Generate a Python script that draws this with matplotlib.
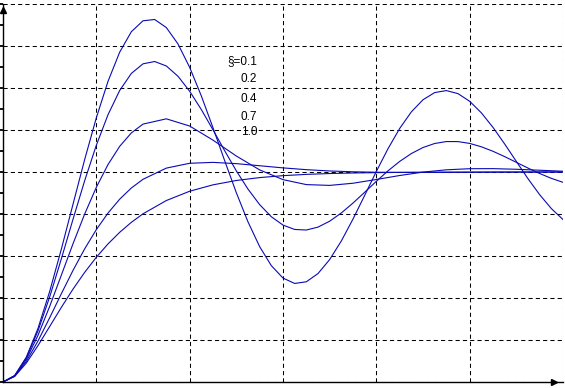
# Step responses of a second-order system for several damping ratios

import numpy as np
import matplotlib.pyplot as plt

# Step 1: data
# fine time steps at the start, coarser ones later for the smoother curves
t_fine = [0, 0.25, 0.5, 0.75, 1, 1.25, 1.5, 1.75, 2, 2.25, 2.5, 2.75, 3,
          3.25, 3.5, 3.75, 4, 4.25, 4.5, 4.75, 5, 5.25, 5.5, 5.75, 6,
          6.25, 6.5, 6.75, 7, 7.25, 7.5, 7.75, 8, 8.25, 8.5, 8.75, 9,
          9.25, 9.5, 9.75, 10, 10.25, 10.5, 10.75, 11, 11.25, 11.5, 11.75, 12]
t_mixed = [0, 0.25, 0.5, 0.75, 1, 1.25, 1.5, 1.75, 2, 2.25, 2.5, 2.75, 3,
           3.5, 4, 4.5, 5, 5.5, 6, 6.5, 7, 7.5, 8, 8.5, 9, 9.5, 10,
           10.5, 11, 11.5, 12]

y_01 = [0.0, 0.0306, 0.1185, 0.2555, 0.4310, 0.6325, 0.8464, 1.0593, 1.2581,
        1.4316, 1.5704, 1.6679, 1.7201, 1.7262, 1.6878, 1.6096, 1.4983, 1.3622,
        1.2107, 1.0539, 0.9014, 0.7624, 0.6445, 0.5540, 0.4949, 0.4693, 0.4772,
        0.5164, 0.5830, 0.6716, 0.7759, 0.8886, 1.0026, 1.1109, 1.2072, 1.2862,
        1.3440, 1.3782, 1.3877, 1.3732, 1.3368, 1.2818, 1.2124, 1.1334, 1.0502,
        0.9681, 0.8919, 0.8259, 0.7737]
y_02 = [0.0, 0.0301, 0.1147, 0.2436, 0.4050, 0.5863, 0.7748, 0.9586, 1.1275,
        1.2727, 1.3880, 1.4693, 1.5151, 1.5261, 1.5049, 1.4559, 1.3845, 1.2972,
        1.2006, 1.1014, 1.0055, 0.9185, 0.8446, 0.7869, 0.7473, 0.7264, 0.7237,
        0.7376, 0.7657, 0.8050, 0.8521, 0.9035, 0.9556, 1.0055, 1.0503, 1.0878,
        1.1166, 1.1357, 1.1450, 1.1448, 1.1361, 1.1201, 1.0986, 1.0733, 1.0460,
        1.0186, 0.9928, 0.9698, 0.9508]
y_04 = [0.0, 0.0291, 0.1077, 0.2223, 0.3599, 0.5087, 0.6582, 0.7998, 0.9271,
        1.0354, 1.1221, 1.1861, 1.2281, 1.2532, 1.2189, 1.1517, 1.0761, 1.0100,
        0.9637, 0.9400, 0.9362, 0.9465, 0.9643, 0.9833, 0.9995, 1.0104, 1.0157,
        1.0160, 1.0130, 1.0084, 1.0036]
y_07 = [0.0, 0.0278, 0.0983, 0.1954, 0.3059, 0.4203, 0.5313, 0.6341, 0.7257,
        0.8045, 0.8704, 0.9238, 0.9653, 1.0185, 1.0416, 1.0458, 1.0398, 1.0298,
        1.0196, 1.0111, 1.0049, 1.0010, 0.9988, 0.9980, 0.9979, 0.9983, 0.9987,
        0.9992, 0.9996, 0.9998, 1.0000]
y_10 = [0.0, 0.0265, 0.0902, 0.1734, 0.2642, 0.3554, 0.4422, 0.5221, 0.5940,
        0.6575, 0.7127, 0.7603, 0.8009, 0.8641, 0.9084, 0.9389, 0.9596, 0.9734,
        0.9826, 0.9887, 0.9927, 0.9953, 0.9970, 0.9981, 0.9988, 0.9992, 0.9995,
        0.9997, 0.9998, 0.9999, 0.9999]

labels = ["§=0.1", "0.2", "0.4", "0.7", "1.0"]

# Step 2: figure and axes
fig = plt.figure(figsize=(5.65, 3.88), dpi=100)
ax = fig.add_axes([3 / 565, 6 / 388, 560 / 565, 378 / 388])
ax.set_xlim(0, 12)
ax.set_ylim(0, 1.8)

# dashed grid
ax.set_xticks(np.arange(0, 13, 2))
ax.set_yticks(np.arange(0, 1.81, 0.2))
ax.set_yticks(np.arange(0.1, 1.8, 0.2), minor=True)
ax.grid(True, which="major", color="black", linestyle=(0, (4, 3)), linewidth=0.75)
ax.tick_params(which="both", length=0, labelleft=False, labelbottom=False)
ax.tick_params(axis="y", which="both", direction="out", length=2.5, width=1.3,
               color="black")
for side in ["top", "right"]:
    ax.spines[side].set_visible(False)
ax.spines["left"].set_linewidth(1.0)
ax.spines["bottom"].set_linewidth(1.0)

# axis arrows
ax.plot(0, 1.77, marker="^", color="black", markersize=4, clip_on=False)
ax.plot(11.8, 0, marker=">", color="black", markersize=5, clip_on=False)

# Step 3: curves
blue = "#0a0ab4"
for tt, yy in [(t_fine, y_01), (t_fine, y_02), (t_mixed, y_04),
               (t_mixed, y_07), (t_mixed, y_10)]:
    ax.plot(tt, yy, color=blue, linewidth=0.8)

# labels
label_y = [1.527, 1.441, 1.346, 1.260, 1.189]
for txt, yy in zip(labels, label_y):
    ax.text(5.45, yy, txt, ha="right", va="center", fontsize=8.5,
            family="Liberation Sans", color="black")

plt.savefig("out.png", dpi=100)
